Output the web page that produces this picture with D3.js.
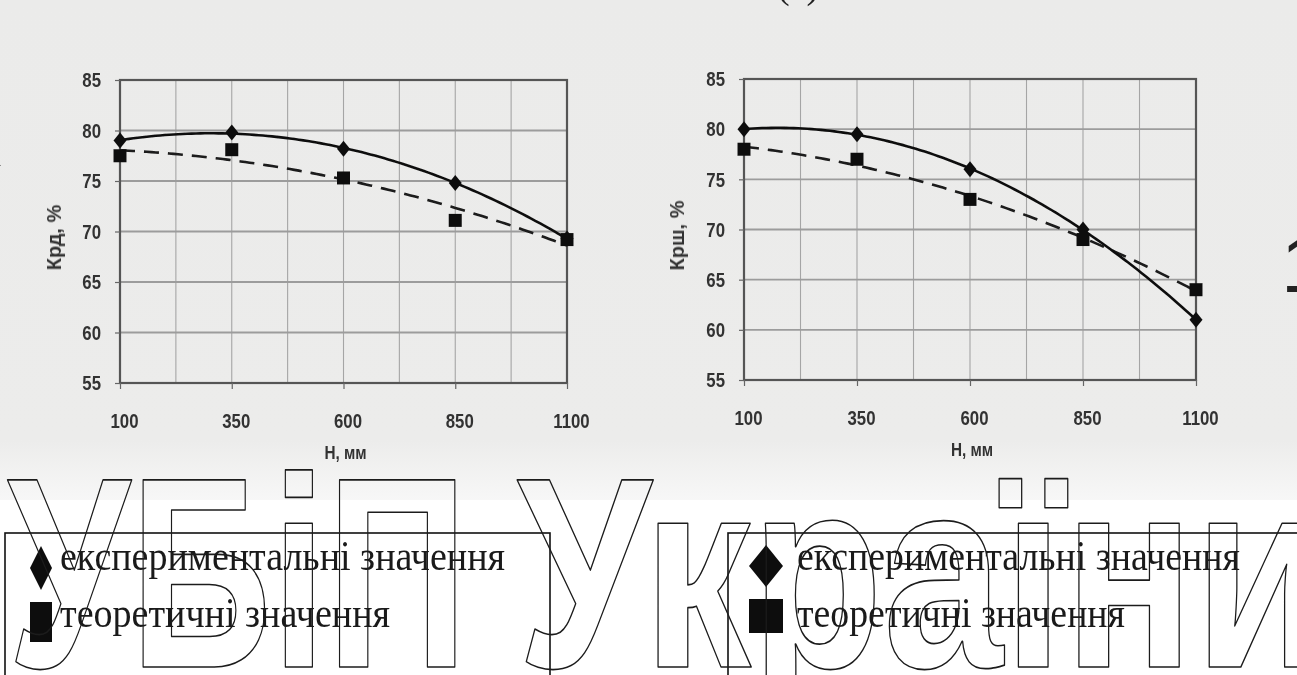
<!DOCTYPE html>
<html>
<head>
<meta charset="utf-8">
<script src="https://cdn.jsdelivr.net/npm/d3@7"></script>
<style>
  body { margin: 0; background: #fff; }
  svg { display: block; }
</style>
</head>
<body>
<svg id="fig" width="1297" height="675"></svg>
<script>
// ---- data ----
const heights = [100, 350, 600, 850, 1100];          // H, мм
const xTickValues = [100, 350, 600, 850, 1100];
const yTickValues = [55, 60, 65, 70, 75, 80, 85];
const krdExperimental = [79.0, 79.8, 78.2, 74.8, 69.3];
const krdTheoretical  = [77.5, 78.1, 75.3, 71.1, 69.2];
const krshExperimental = [80.0, 79.5, 76.0, 70.0, 61.0];
const krshTheoretical  = [78.0, 77.0, 73.0, 69.0, 64.0];
const legendLabels = ["експериментальні значення", "теоретичні значення"];
const xAxisTitle = "Н, мм";
const yAxisTitles = ["Крд, %", "Крш, %"];
const watermarkWords = ["НУБіП", "України"];

const svg = d3.select("#fig");

// soft filter for the scanned chart area
const defs = svg.append("defs");
defs.append("filter").attr("id", "soft")
  .append("feGaussianBlur").attr("stdDeviation", 0.6);

// page background: grey chart band, white below
svg.append("rect").attr("x", 0).attr("y", 0).attr("width", 1297).attr("height", 675).attr("fill", "#fff");
const bg = defs.append("linearGradient").attr("id", "band").attr("x1", 0).attr("y1", 0).attr("x2", 0).attr("y2", 1);
bg.append("stop").attr("offset", "0%").attr("stop-color", "#ebebea");
bg.append("stop").attr("offset", "88%").attr("stop-color", "#ececeb");
bg.append("stop").attr("offset", "100%").attr("stop-color", "#f7f7f7");
svg.append("rect").attr("x", 0).attr("y", 0).attr("width", 1297).attr("height", 500).attr("fill", "url(#band)");

// least-squares polynomial trend (Excel-style trendline)
function polyfit(xs, ys, deg) {
  const n = deg + 1;
  const A = Array.from({length: n}, () => new Array(n + 1).fill(0));
  xs.forEach((x, k) => {
    for (let i = 0; i < n; i++) {
      for (let j = 0; j < n; j++) A[i][j] += Math.pow(x, i + j);
      A[i][n] += ys[k] * Math.pow(x, i);
    }
  });
  for (let c = 0; c < n; c++) {
    let p = c;
    for (let r = c + 1; r < n; r++) if (Math.abs(A[r][c]) > Math.abs(A[p][c])) p = r;
    [A[c], A[p]] = [A[p], A[c]];
    for (let r = 0; r < n; r++) {
      if (r === c) continue;
      const f = A[r][c] / A[c][c];
      for (let k = c; k <= n; k++) A[r][k] -= f * A[c][k];
    }
  }
  const coef = A.map((row, i) => row[n] / row[i]);
  return x => coef.reduce((s, c, i) => s + c * Math.pow(x, i), 0);
}

const tickFont = "'Liberation Sans', Arial, sans-serif";

function drawPanel(cfg) {
  const g = svg.append("g").attr("filter", "url(#soft)");
  const x = d3.scaleLinear().domain([100, 1100]).range([cfg.left, cfg.right]);
  const y = d3.scaleLinear().domain([55, 85]).range([cfg.bottom, cfg.top]);

  // vertical grid every 125 mm
  g.append("g").selectAll("line")
    .data(d3.range(225, 1100, 125))
    .join("line")
    .attr("x1", d => x(d)).attr("x2", d => x(d))
    .attr("y1", cfg.top).attr("y2", cfg.bottom)
    .attr("stroke", "#a5a5a5").attr("stroke-width", 1.1);

  // horizontal grid
  g.append("g").selectAll("line")
    .data(yTickValues.filter(v => v > 55 && v < 85))
    .join("line")
    .attr("x1", cfg.left).attr("x2", cfg.right)
    .attr("y1", d => y(d)).attr("y2", d => y(d))
    .attr("stroke", "#9c9c9c").attr("stroke-width", 1.8);

  // frame
  g.append("rect")
    .attr("x", cfg.left).attr("y", cfg.top)
    .attr("width", cfg.right - cfg.left).attr("height", cfg.bottom - cfg.top)
    .attr("fill", "none").attr("stroke", "#555").attr("stroke-width", 2.2);

  const ya = g.append("g").attr("transform", `translate(${cfg.left},0)`)
    .call(d3.axisLeft(y).tickValues(yTickValues).tickFormat(d3.format("d")).tickSize(5).tickPadding(0));
  ya.select(".domain").remove();
  ya.selectAll("line").attr("stroke", "#666").attr("stroke-width", 1.2);
  ya.selectAll("text").attr("font-family", tickFont).attr("font-size", 21)
    .attr("fill", "#333").attr("font-weight", "bold")
    .attr("x", -19).attr("text-anchor", "end")
    .attr("transform", "translate(-19,0) scale(0.8,1) translate(19,0)");

  const xa = g.append("g").attr("transform", `translate(0,${cfg.bottom})`)
    .call(d3.axisBottom(x).tickValues(xTickValues).tickFormat(d3.format("d")).tickSize(6).tickPadding(24));
  xa.select(".domain").remove();
  xa.selectAll("line").attr("stroke", "#666").attr("stroke-width", 1.2);
  xa.selectAll("text").attr("font-family", tickFont).attr("font-size", 21)
    .attr("fill", "#333").attr("font-weight", "bold")
    .attr("x", 4).attr("transform", "translate(4,0) scale(0.8,1) translate(-4,0)");

  // axis titles
  g.append("text")
    .attr("transform", `translate(${(cfg.left + cfg.right) / 2 + 2},${cfg.bottom + 76}) scale(0.85,1)`)
    .attr("text-anchor", "middle")
    .attr("font-family", tickFont).attr("font-weight", "bold").attr("font-size", 18)
    .attr("fill", "#333").text(xAxisTitle);
  g.append("text")
    .attr("transform", `translate(${cfg.yTitleX},${(cfg.top + cfg.bottom) / 2 + 6}) rotate(-90)`)
    .attr("text-anchor", "middle")
    .attr("font-family", tickFont).attr("font-weight", "bold").attr("font-size", 20)
    .attr("fill", "#333").text(cfg.yTitle);

  // trendlines
  const samples = d3.range(100, 1100.1, 10);
  const line = d3.line().x(d => x(d[0])).y(d => y(d[1]));
  const fitT = polyfit(heights, cfg.theo, 2);
  const fitE = polyfit(heights, cfg.exp, 2);
  g.append("path")
    .attr("d", line(samples.map(h => [h, fitT(h)])))
    .attr("fill", "none").attr("stroke", "#1a1a1a").attr("stroke-width", 2.6)
    .attr("stroke-dasharray", "15,9");
  g.append("path")
    .attr("d", line(samples.map(h => [h, fitE(h)])))
    .attr("fill", "none").attr("stroke", "#111").attr("stroke-width", 2.6);

  // markers
  g.append("g").selectAll("rect")
    .data(heights.map((h, i) => [h, cfg.theo[i]]))
    .join("rect")
    .attr("x", d => x(d[0]) - 6.5).attr("y", d => y(d[1]) - 6.5)
    .attr("width", 13).attr("height", 13).attr("fill", "#111");
  g.append("g").selectAll("path")
    .data(heights.map((h, i) => [h, cfg.exp[i]]))
    .join("path")
    .attr("d", d => `M${x(d[0])},${y(d[1]) - 8}l6.5,8l-6.5,8l-6.5,-8z`)
    .attr("fill", "#111");
}

drawPanel({left: 120, right: 567, top: 80, bottom: 383, yTitleX: 61,
           exp: krdExperimental, theo: krdTheoretical, yTitle: yAxisTitles[0]});
drawPanel({left: 744, right: 1196, top: 79, bottom: 380, yTitleX: 684,
           exp: krshExperimental, theo: krshTheoretical, yTitle: yAxisTitles[1]});

// clipped caption fragments at the edges of the figure
const edge = svg.append("g").attr("filter", "url(#soft)")
  .attr("font-family", "'Liberation Serif', serif").attr("fill", "#222");
edge.append("text").attr("x", 798).attr("y", -2).attr("text-anchor", "middle")
  .attr("font-size", 38).text("(а)");
edge.append("text").attr("x", -20).attr("y", 166).attr("font-size", 36)
  .attr("font-family", "'Liberation Sans', sans-serif").text("К");
edge.append("text").attr("x", 1281).attr("y", 292).attr("font-size", 80)
  .attr("font-family", "'Liberation Sans', sans-serif").text("1");

// legends
function drawLegend(cfg) {
  const g = svg.append("g");
  g.append("rect").attr("x", cfg.x).attr("y", 533).attr("width", cfg.w).attr("height", 160)
    .attr("fill", "#fff").attr("stroke", "#111").attr("stroke-width", 1.6);
  // diamond key
  g.append("path")
    .attr("d", `M${cfg.mx},${cfg.dy - cfg.dh / 2}l${cfg.dw / 2},${cfg.dh / 2}l${-cfg.dw / 2},${cfg.dh / 2}l${-cfg.dw / 2},${-cfg.dh / 2}z`)
    .attr("fill", "#0d0d0d");
  // square key
  g.append("rect").attr("x", cfg.mx - cfg.sw / 2).attr("y", cfg.sy - cfg.sh / 2)
    .attr("width", cfg.sw).attr("height", cfg.sh).attr("fill", "#0d0d0d");
  const font = "'Liberation Serif', 'Times New Roman', serif";
  g.append("text").attr("x", cfg.tx).attr("y", 570)
    .attr("font-family", font).attr("font-size", 43).attr("fill", "#1a1a1a")
    .attr("textLength", cfg.len1).attr("lengthAdjust", "spacingAndGlyphs")
    .text(legendLabels[0]);
  g.append("text").attr("x", cfg.tx).attr("y", 627)
    .attr("font-family", font).attr("font-size", 43).attr("fill", "#1a1a1a")
    .attr("textLength", cfg.len2).attr("lengthAdjust", "spacingAndGlyphs")
    .text(legendLabels[1]);
}
drawLegend({x: 5, w: 545, mx: 41, dy: 568, dw: 22, dh: 44, sy: 622, sw: 22, sh: 40,
            tx: 60, len1: 445, len2: 330});
drawLegend({x: 728, w: 600, mx: 766, dy: 566, dw: 34, dh: 42, sy: 616, sw: 34, sh: 34,
            tx: 797, len1: 443, len2: 328});

// outlined watermark lettering over the lower part
const wm = svg.append("g")
  .attr("font-family", "'Liberation Sans', Arial, sans-serif")
  .attr("font-weight", "bold").attr("font-size", 272)
  .attr("fill", "none").attr("stroke", "#1c1c1c").attr("stroke-width", 1.6)
  .attr("stroke-linejoin", "round");
wm.append("text").attr("x", -135).attr("y", 667)
  .attr("textLength", 603).attr("lengthAdjust", "spacingAndGlyphs").text(watermarkWords[0]);
wm.append("text").attr("x", 517).attr("y", 667)
  .attr("textLength", 810).attr("lengthAdjust", "spacingAndGlyphs").text(watermarkWords[1]);
</script>
</body>
</html>
